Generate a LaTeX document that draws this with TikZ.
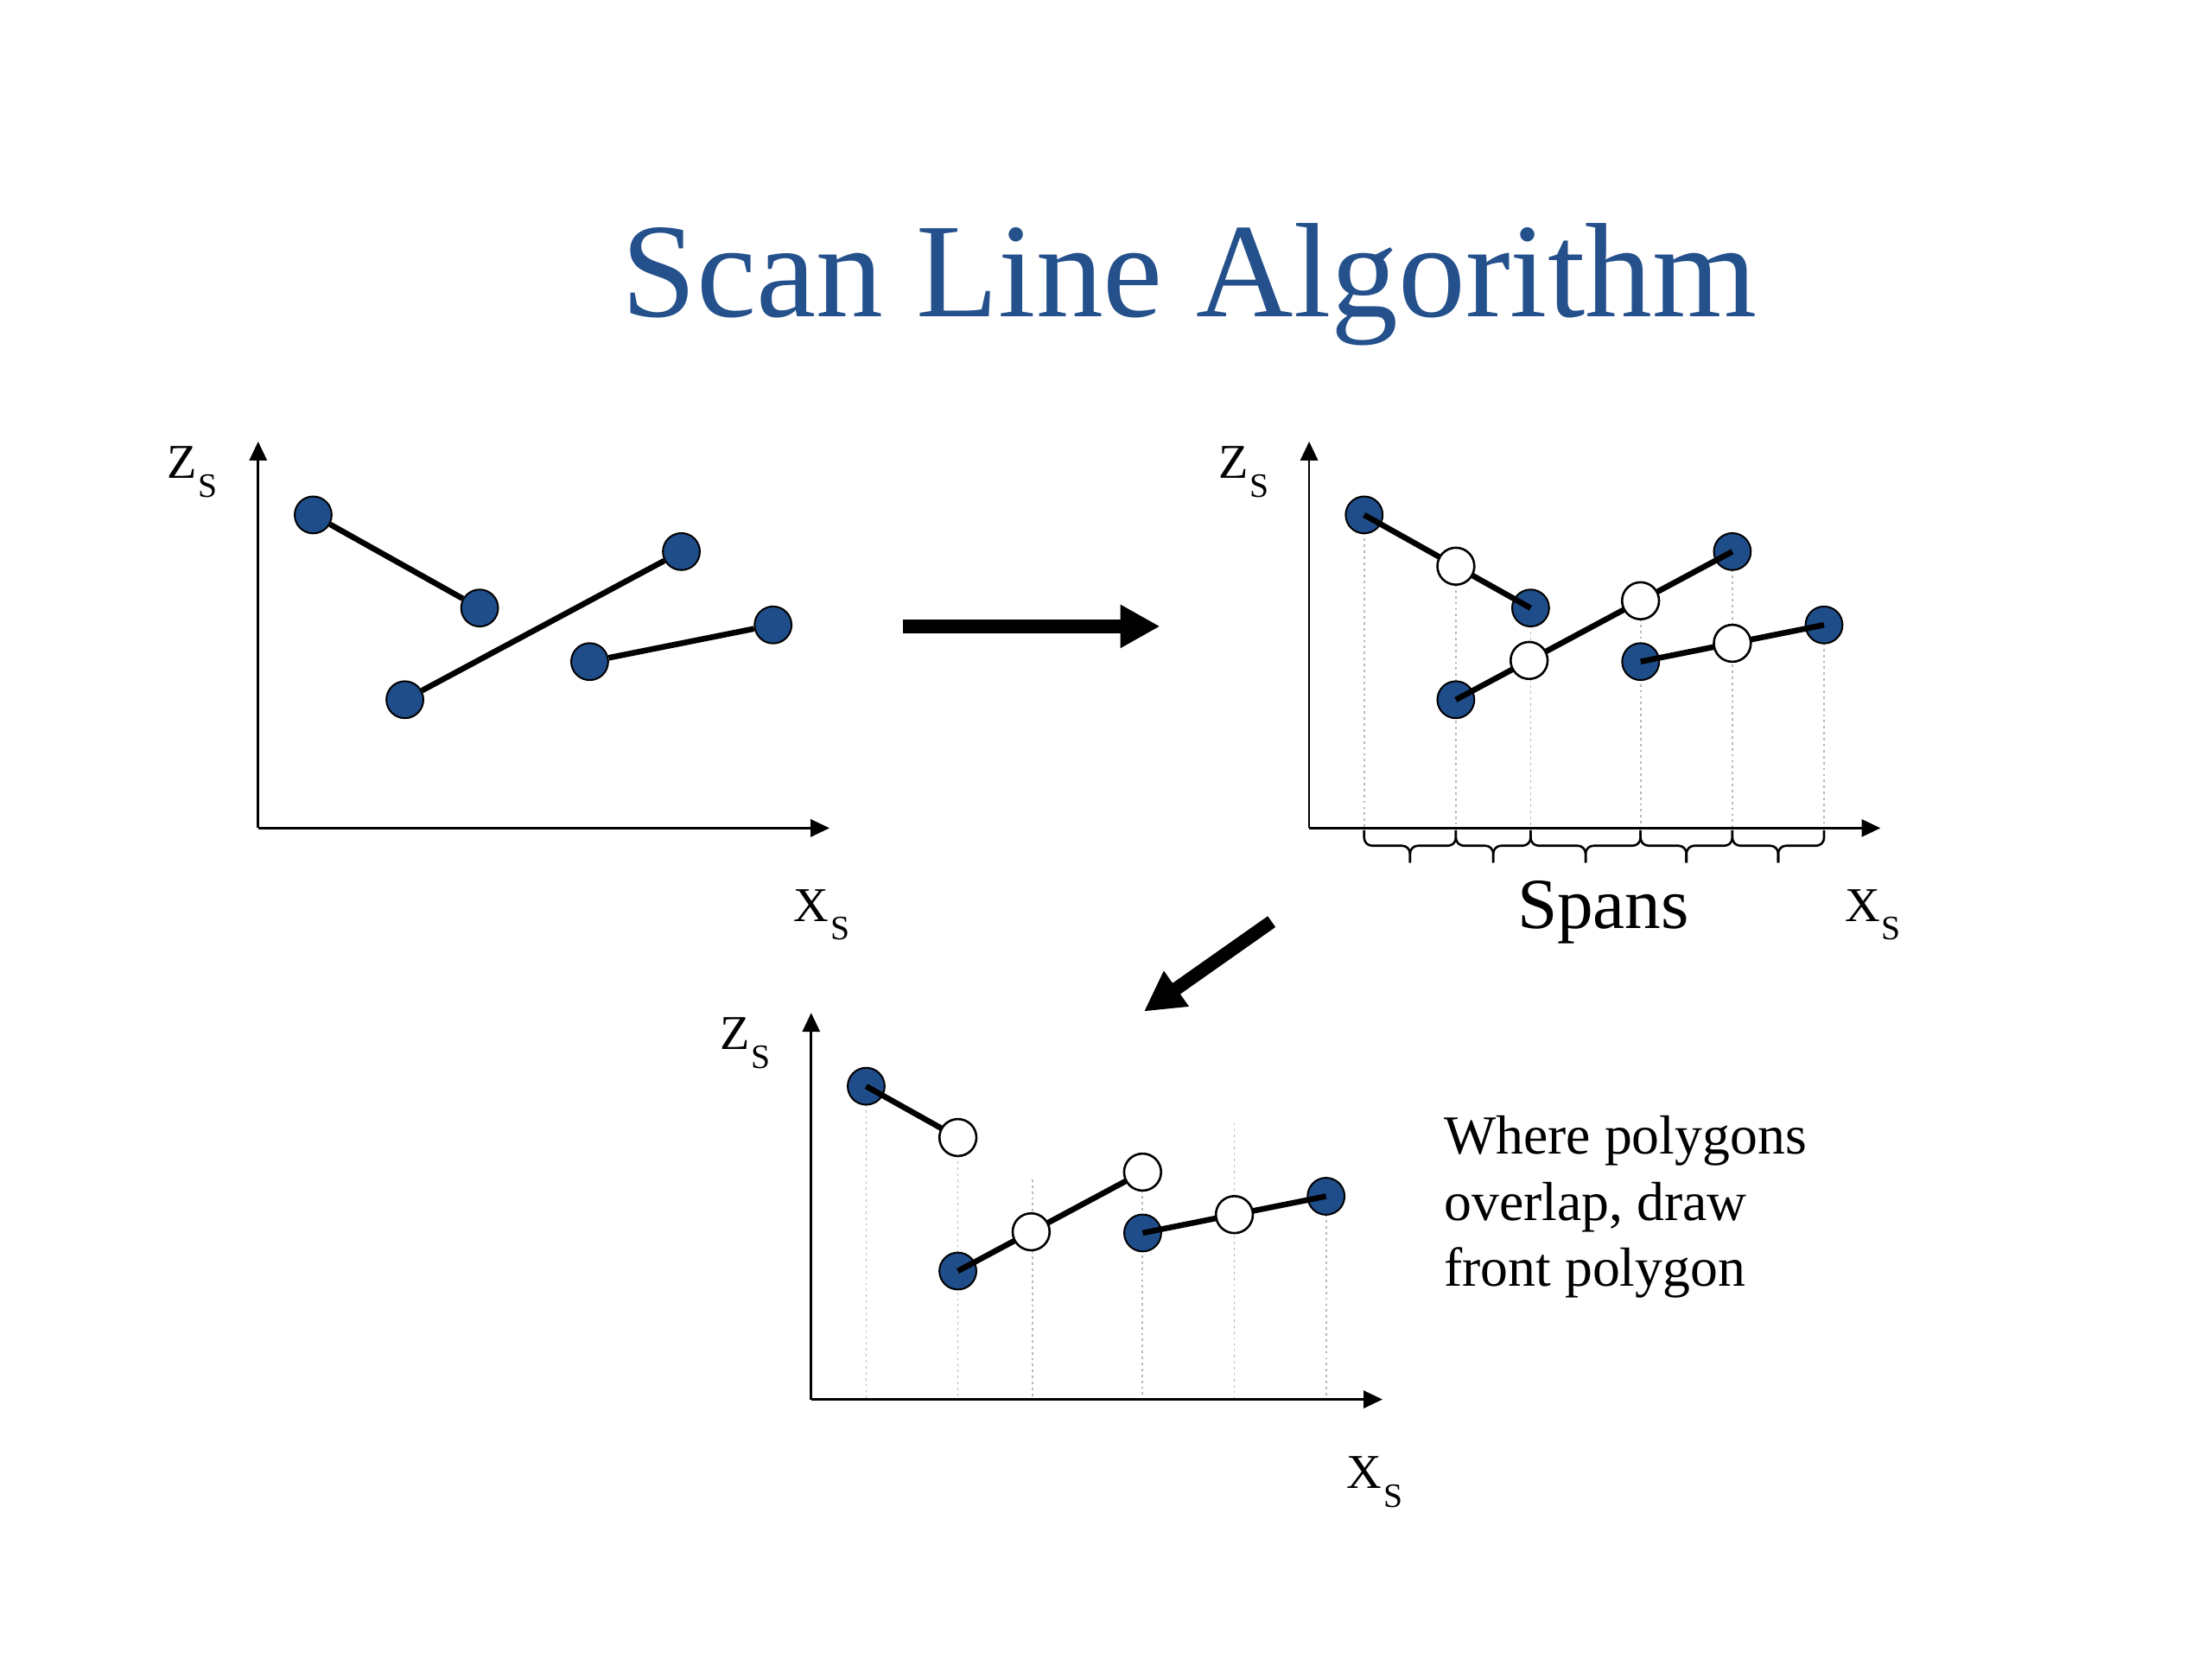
\documentclass[tikz,border=0pt]{standalone}
\usepackage{fontspec}
\setmainfont{Liberation Serif}
\usetikzlibrary{arrows.meta,calc}
\definecolor{navy}{RGB}{31,77,137}
\definecolor{titleblue}{RGB}{36,80,140}
\newcommand{\axlab}[1]{#1\kern0.3pt\raisebox{-3.8pt}{\fontsize{6.9}{7}\selectfont S}}
% base point coordinates of one plot, suffixed
\newcommand{\plotpoints}[1]{%
  \coordinate (O#1) at (183,587);
  \coordinate (Y#1) at (183,313);
  \coordinate (X#1) at (588,587);
  \coordinate (pa#1) at (222,365);
  \coordinate (pb#1) at (340,431);
  \coordinate (pc#1) at (287,496);
  \coordinate (pd#1) at (483,391);
  \coordinate (pe#1) at (418,469);
  \coordinate (pf#1) at (548,443);
  \coordinate (po1#1) at ($(pa#1)!0.551!(pb#1)$);
  \coordinate (po2#1) at ($(pc#1)!0.265!(pd#1)$);
  \coordinate (po3#1) at ($(pc#1)!0.668!(pd#1)$);
  \coordinate (po4#1) at ($(pe#1)!0.5!(pf#1)$);
}
\newcommand{\plotdots}[1]{%
  \draw[vdots] (pa#1) -- (pa#1 |- O#1);
  \draw[vdots] (po1#1) -- (po1#1 |- O#1);
  \draw[vdots] (pb#1) -- (pb#1 |- O#1);
  \draw[vdots] (po3#1) -- (po3#1 |- O#1);
  \draw[vdots] (pd#1) -- (pd#1 |- O#1);
  \draw[vdots] (pf#1) -- (pf#1 |- O#1);
}
% span brace between the axis feet of two coordinates
\newcommand{\spanbrace}[3]{%
  \coordinate (bl) at ($(#1 |- #3)+(0,1.5)$);
  \coordinate (br) at ($(#2 |- #3)+(0,1.5)$);
  \coordinate (bm) at ($(bl)!0.5!(br)+(0,11)$);
  \draw[bracepath] (bl) -- ++(0,11) -- (bm) -- ++(0,12);
  \draw[bracepath] (br) -- ++(0,11) -- (bm) -- ++(0,12);
}
\begin{document}
\begin{tikzpicture}[x=0.01cm,y=-0.01cm,
  fdot/.style={circle,fill=navy,draw=black,line width=0.35pt,minimum size=0.262cm,inner sep=0pt},
  odot/.style={circle,fill=white,draw=black,line width=0.45pt,minimum size=0.262cm,inner sep=0pt},
  seg/.style={line width=1.15pt,black},
  axisline/.style={line width=0.45pt,-{Triangle[length=3.8pt,width=3.5pt]}},
  vdots/.style={line width=0.3pt,gray!55,dash pattern=on 0.5pt off 0.7pt},
  bracepath/.style={line width=0.45pt,rounded corners=1.6pt},
  bigarrow/.style={line width=2.7pt,-{Triangle[length=8pt,width=8.2pt]}},
  axlabel/.style={anchor=base west,inner sep=0pt,font=\fontsize{9.8}{10}\selectfont}]
\useasboundingbox (0,0) rectangle (1568,1176);
\fill[white] (0,0) rectangle (1568,1176);

% title
\node[anchor=base,inner sep=0pt,text=titleblue,font=\fontsize{27.1}{30}\selectfont] (title) at (843,224.6) {Scan Line Algorithm};

% ---------- plot 1 ----------
\begin{scope}
  \plotpoints{1}
  \draw[axisline] (O1) -- (Y1);
  \draw[axisline] (O1) -- (X1);
  \node[fdot] (a1) at (pa1) {};
  \node[fdot] (b1) at (pb1) {};
  \node[fdot] (c1) at (pc1) {};
  \node[fdot] (d1) at (pd1) {};
  \node[fdot] (e1) at (pe1) {};
  \node[fdot] (f1) at (pf1) {};
  \draw[seg] (a1) -- (b1);
  \draw[seg] (c1) -- (d1);
  \draw[seg] (e1) -- (f1);
  \node[axlabel] (zl1) at (118,339) {\axlab{Z}};
  \node[axlabel] (xl1) at (562,653) {\axlab{X}};
\end{scope}

% ---------- plot 2 ----------
\begin{scope}[shift={(745,0)}]
  \plotpoints{2}
  \plotdots{2}
  \draw[axisline] (O2) -- (Y2);
  \draw[axisline] (O2) -- (X2);
  \spanbrace{pa2}{po12}{O2}
  \spanbrace{po12}{pb2}{O2}
  \spanbrace{pb2}{po32}{O2}
  \spanbrace{po32}{pd2}{O2}
  \spanbrace{pd2}{pf2}{O2}
  \node[fdot] (a2) at (pa2) {};
  \node[fdot] (b2) at (pb2) {};
  \node[fdot] (c2) at (pc2) {};
  \node[fdot] (d2) at (pd2) {};
  \node[fdot] (e2) at (pe2) {};
  \node[fdot] (f2) at (pf2) {};
  \draw[seg] (a2.center) -- (b2.center);
  \draw[seg] (c2.center) -- (d2.center);
  \draw[seg] (e2.center) -- (f2.center);
  \node[odot] (o12) at (po12) {};
  \node[odot] (o22) at (po22) {};
  \node[odot] (o32) at (po32) {};
  \node[odot] (o42) at (po42) {};
  \node[axlabel] (zl2) at (118,339) {\axlab{Z}};
  \node[axlabel] (xl2) at (562,653) {\axlab{X}};
\end{scope}
\node[anchor=base,inner sep=0pt,font=\fontsize{14.5}{16}\selectfont] (spans) at (1136.5,658) {Spans};

% ---------- plot 3 ----------
\begin{scope}[shift={(392,405)}]
  \plotpoints{3}
  \plotdots{3}
  \draw[axisline] (O3) -- (Y3);
  \draw[axisline] (O3) -- (X3);
  \node[fdot] (a3) at (pa3) {};
  \node[fdot] (c3) at (pc3) {};
  \node[fdot] (e3) at (pe3) {};
  \node[fdot] (f3) at (pf3) {};
  \draw[seg] (a3.center) -- (po13);
  \draw[seg] (c3.center) -- (po33);
  \draw[seg] (e3.center) -- (f3.center);
  \node[odot] (o13) at (po13) {};
  \node[odot] (o23) at (po23) {};
  \node[odot] (o33) at (po33) {};
  \node[odot] (o43) at (po43) {};
  \node[axlabel] (zl3) at (118,339) {\axlab{Z}};
  \node[axlabel] (xl3) at (562,650) {\axlab{X}};
\end{scope}

% note
\node[anchor=north west,inner sep=0pt,align=left,font=\fontsize{11.1}{13.3}\selectfont] (note) at (1023,790.4) {Where polygons\\overlap, draw\\front polygon};

% big arrows
\coordinate (h1) at (640,444);
\coordinate (h2) at (822.3,444);
\draw[bigarrow] (h1) -- (h2);
\coordinate (g1) at (901.4,653.3);
\coordinate (g2) at (810.9,717);
\draw[bigarrow] (g1) -- (g2);
\end{tikzpicture}
\end{document}
